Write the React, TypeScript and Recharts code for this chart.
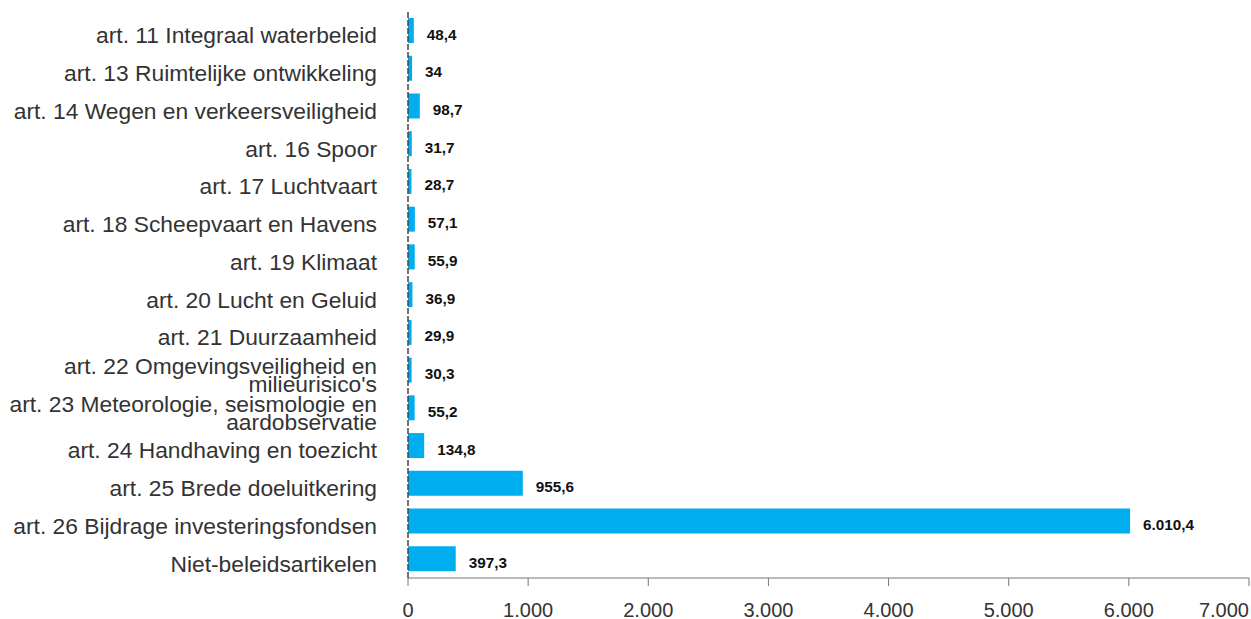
import { BarChart, Bar, XAxis, YAxis, LabelList } from "recharts";

const categories = [
  "art. 11 Integraal waterbeleid",
  "art. 13 Ruimtelijke ontwikkeling",
  "art. 14 Wegen en verkeersveiligheid",
  "art. 16 Spoor",
  "art. 17 Luchtvaart",
  "art. 18 Scheepvaart en Havens",
  "art. 19 Klimaat",
  "art. 20 Lucht en Geluid",
  "art. 21 Duurzaamheid",
  "art. 22 Omgevingsveiligheid en milieurisico's",
  "art. 23 Meteorologie, seismologie en aardobservatie",
  "art. 24 Handhaving en toezicht",
  "art. 25 Brede doeluitkering",
  "art. 26 Bijdrage investeringsfondsen",
  "Niet-beleidsartikelen",
];

const values = [48.4, 34, 98.7, 31.7, 28.7, 57.1, 55.9, 36.9, 29.9, 30.3, 55.2, 134.8, 955.6, 6010.4, 397.3];

const xTicks = [0, 1000, 2000, 3000, 4000, 5000, 6000, 7000];

const data = categories.map((name, i) => ({ name, value: values[i] }));

const FONT = "'Liberation Sans', Arial, Helvetica, sans-serif";

// Dutch number format: "." for thousands, "," for decimals
function fmt(v: number) {
  const neg = v < 0;
  const abs = Math.abs(v);
  const rounded = Math.round(abs * 10) / 10;
  const intPart = Math.floor(rounded);
  const dec = Math.round((rounded - intPart) * 10);
  const intStr = String(intPart).replace(/\B(?=(\d{3})+(?!\d))/g, ".");
  return (neg ? "-" : "") + intStr + (dec ? "," + dec : "");
}

function wrap(label: string, maxChars = 37) {
  const words = label.split(" ");
  const lines: string[] = [];
  let cur = "";
  for (const w of words) {
    const next = cur ? cur + " " + w : w;
    if (next.length > maxChars && cur) {
      lines.push(cur);
      cur = w;
    } else {
      cur = next;
    }
  }
  if (cur) lines.push(cur);
  return lines;
}

function CategoryTick(props: any) {
  const { x, y, payload } = props;
  const lines = wrap(String(payload.value));
  const base = y + 12.5 - ((lines.length - 1) * 18) / 2;
  return (
    <text x={x - 31} textAnchor="end" fontFamily={FONT} fontSize={22.8} fill="#333">
      {lines.map((l, i) => (
        <tspan key={i} x={x - 31} y={base + i * 18}>
          {l}
        </tspan>
      ))}
    </text>
  );
}

function ValueTick(props: any) {
  const { x, y, payload, index } = props;
  const last = index === xTicks.length - 1;
  return (
    <text
      x={x}
      y={y + 30.5}
      textAnchor={last ? "end" : "middle"}
      fontFamily={FONT}
      fontSize={20}
      fill="#333"
    >
      {fmt(payload.value)}
    </text>
  );
}

function BarValue(props: any) {
  const { x, y, width, height, value } = props;
  return (
    <text
      x={x + width + 13}
      y={y + height / 2 + 9}
      fontFamily={FONT}
      fontSize={15.3}
      fontWeight="bold"
      fill="#111"
    >
      {fmt(value)}
    </text>
  );
}

export default function App() {
  return (
    <div style={{ position: "absolute", left: 0, top: 0 }}>
      <BarChart
        width={1251}
        height={619}
        data={data}
        layout="vertical"
        margin={{ top: 12, right: 2, left: 0, bottom: 11 }}
      >
        <XAxis
          type="number"
          domain={[0, 7000]}
          ticks={xTicks}
          interval={0}
          stroke="#777"
          tickSize={8}
          tickMargin={0}
          height={30}
          tick={<ValueTick />}
        />
        <Bar dataKey="value" fill="#00AEEF" barSize={25} isAnimationActive={false}>
          <LabelList dataKey="value" content={<BarValue />} />
        </Bar>
        <YAxis
          type="category"
          dataKey="name"
          width={408}
          interval={0}
          tickLine={false}
          tickSize={0}
          tickMargin={0}
          axisLine={{ stroke: "#444", strokeWidth: 1.5, strokeDasharray: "6 2" }}
          tick={<CategoryTick />}
        />
      </BarChart>
    </div>
  );
}
